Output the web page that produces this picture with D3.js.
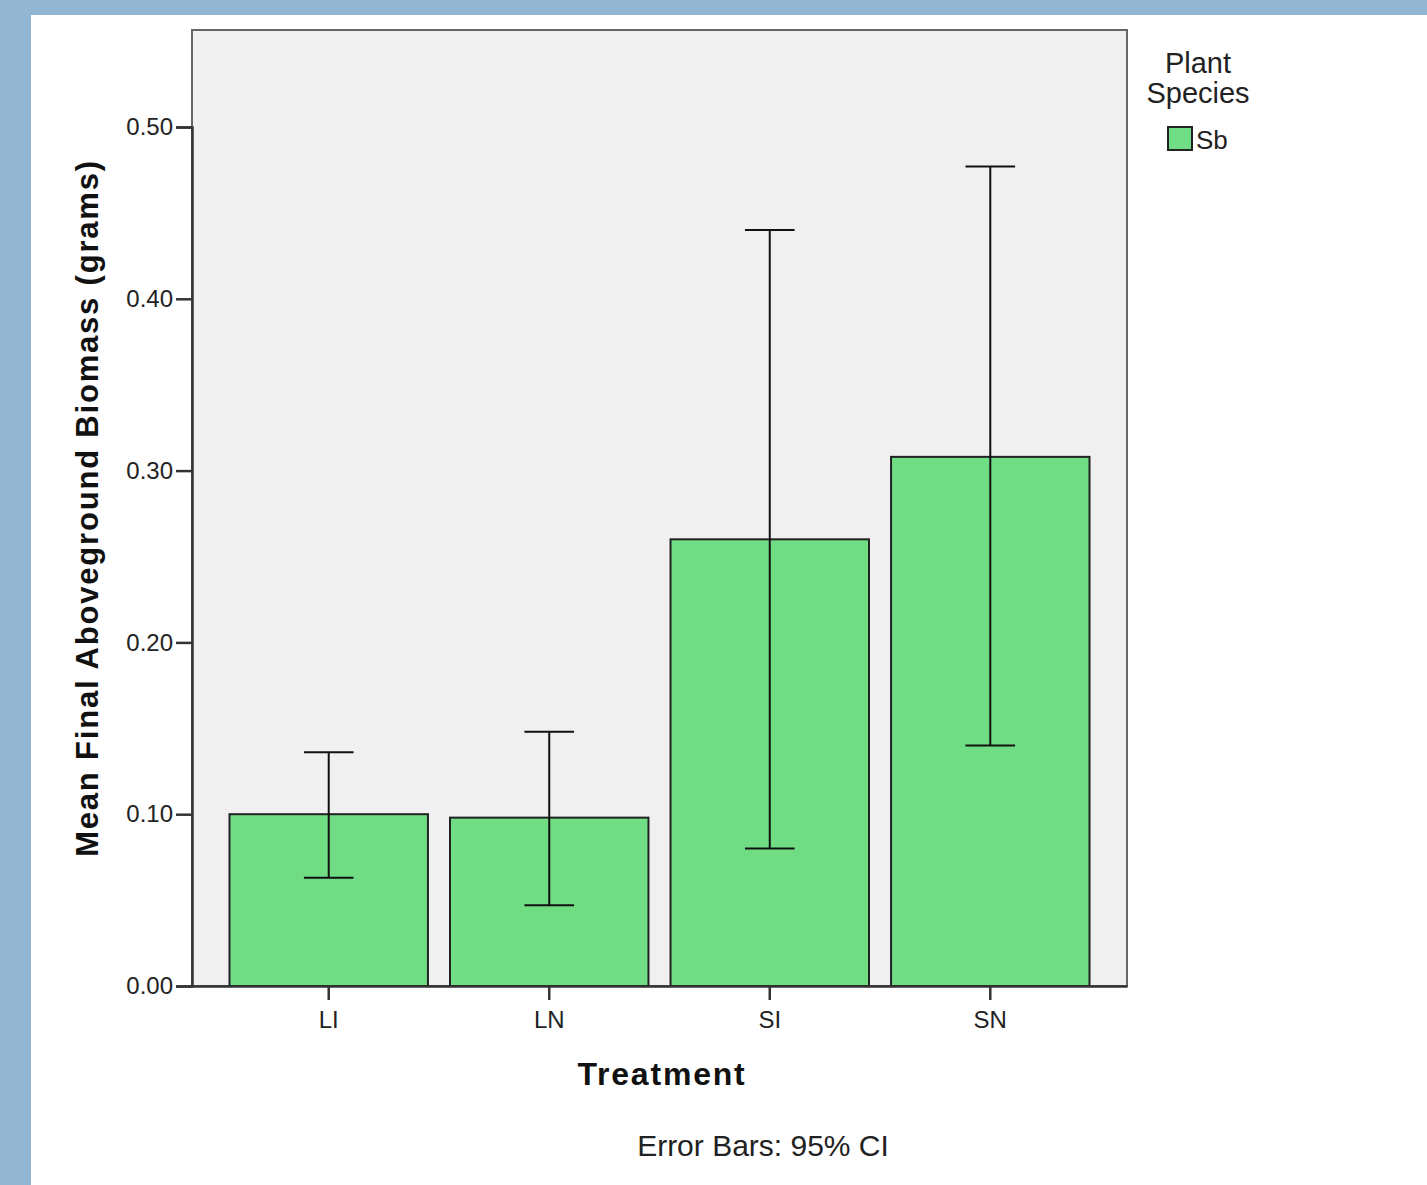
<!DOCTYPE html>
<html>
<head>
<meta charset="utf-8">
<script src="https://cdn.jsdelivr.net/npm/d3@7/dist/d3.min.js"></script>
<style>
    body { margin: 0; background: #93b6d3; }
    text { font-family: "Liberation Sans", Arial, sans-serif; }
</style>
</head>
<body>
<div id="chart"></div>
<script>
    // data
    const treatments = ["LI", "LN", "SI", "SN"];
    const means = [0.100, 0.098, 0.260, 0.308];
    const ciLow = [0.063, 0.047, 0.080, 0.140];
    const ciHigh = [0.136, 0.148, 0.440, 0.477];
    const yTicks = [0.0, 0.1, 0.2, 0.3, 0.4, 0.5];
    const legendItems = ["Sb"];

    const W = 1427, H = 1185;
    const plot = { left: 192, top: 30, right: 1127, bottom: 986 };
    const barColor = "#70dc84";

    const svg = d3.select("#chart").append("svg")
        .attr("width", W)
        .attr("height", H);

    // blue frame + white page
    svg.append("rect").attr("width", W).attr("height", H).attr("fill", "#93b6d3");
    svg.append("rect").attr("x", 31).attr("y", 15).attr("width", W - 31).attr("height", H - 15).attr("fill", "#fff");

    const x = d3.scaleBand()
        .domain(treatments)
        .range([plot.left, plot.right])
        .paddingInner(0.1)
        .paddingOuter(0.17);

    const y = d3.scaleLinear()
        .domain([0, 0.5])
        .range([plot.bottom, plot.bottom - 859]);

    // plot background
    svg.append("rect")
        .attr("x", plot.left).attr("y", plot.top)
        .attr("width", plot.right - plot.left).attr("height", plot.bottom - plot.top)
        .attr("fill", "#f0f0f0")
        .attr("stroke", "#666")
        .attr("stroke-width", 2);

    // bars
    svg.append("g").selectAll("rect")
        .data(treatments)
        .join("rect")
        .attr("x", d => x(d))
        .attr("y", (d, i) => y(means[i]))
        .attr("width", x.bandwidth())
        .attr("height", (d, i) => y(0) - y(means[i]))
        .attr("fill", barColor)
        .attr("stroke", "#222")
        .attr("stroke-width", 2);

    // error bars
    const cap = x.bandwidth() * 0.125;
    const eb = svg.append("g").attr("stroke", "#111").attr("stroke-width", 2);
    treatments.forEach((t, i) => {
        const cx = x(t) + x.bandwidth() / 2;
        eb.append("line").attr("x1", cx).attr("x2", cx).attr("y1", y(ciLow[i])).attr("y2", y(ciHigh[i]));
        eb.append("line").attr("x1", cx - cap).attr("x2", cx + cap).attr("y1", y(ciLow[i])).attr("y2", y(ciLow[i]));
        eb.append("line").attr("x1", cx - cap).attr("x2", cx + cap).attr("y1", y(ciHigh[i])).attr("y2", y(ciHigh[i]));
    });

    // y axis
    const yAxis = svg.append("g")
        .attr("transform", `translate(${plot.left},0)`)
        .call(d3.axisLeft(y).tickValues(yTicks).tickFormat(d3.format(".2f")).tickSize(16).tickPadding(3));
    yAxis.select(".domain").attr("stroke", "#333").attr("stroke-width", 2.5);
    yAxis.selectAll(".tick line").attr("stroke", "#333").attr("stroke-width", 2.5);
    yAxis.selectAll(".tick text").attr("font-size", 24).attr("fill", "#222")
        .style("font-family", '"Liberation Sans", Arial, sans-serif');

    // x axis
    const xAxis = svg.append("g")
        .attr("transform", `translate(0,${plot.bottom})`)
        .call(d3.axisBottom(x).tickSize(14).tickPadding(11).tickSizeOuter(0));
    xAxis.select(".domain").attr("stroke", "#333").attr("stroke-width", 2.5);
    xAxis.selectAll(".tick line").attr("stroke", "#333").attr("stroke-width", 2.5);
    xAxis.selectAll(".tick text").attr("font-size", 24).attr("fill", "#222")
        .style("font-family", '"Liberation Sans", Arial, sans-serif');

    // axis titles
    svg.append("text")
        .attr("transform", `translate(98,508) rotate(-90)`)
        .attr("text-anchor", "middle")
        .attr("font-size", 31)
        .attr("font-weight", "bold")
        .attr("letter-spacing", 1.8)
        .attr("fill", "#111")
        .text("Mean Final Aboveground Biomass (grams)");

    svg.append("text")
        .attr("x", 662).attr("y", 1085)
        .attr("text-anchor", "middle")
        .attr("font-size", 32)
        .attr("font-weight", "bold")
        .attr("letter-spacing", 1.8)
        .attr("fill", "#111")
        .text("Treatment");

    svg.append("text")
        .attr("x", 763).attr("y", 1156)
        .attr("text-anchor", "middle")
        .attr("font-size", 30)
        .attr("fill", "#222")
        .text("Error Bars: 95% CI");

    // legend
    const lg = svg.append("g");
    lg.append("text").attr("x", 1198).attr("y", 73).attr("text-anchor", "middle")
        .attr("font-size", 29).attr("fill", "#222").text("Plant");
    lg.append("text").attr("x", 1198).attr("y", 103).attr("text-anchor", "middle")
        .attr("font-size", 29).attr("fill", "#222").text("Species");
    legendItems.forEach((k, i) => {
        lg.append("rect").attr("x", 1168).attr("y", 127 + i * 30).attr("width", 24).attr("height", 23)
            .attr("fill", barColor).attr("stroke", "#222").attr("stroke-width", 2);
        lg.append("text").attr("x", 1196).attr("y", 149 + i * 30)
            .attr("font-size", 26).attr("fill", "#222").text(k);
    });
</script>
</body>
</html>
